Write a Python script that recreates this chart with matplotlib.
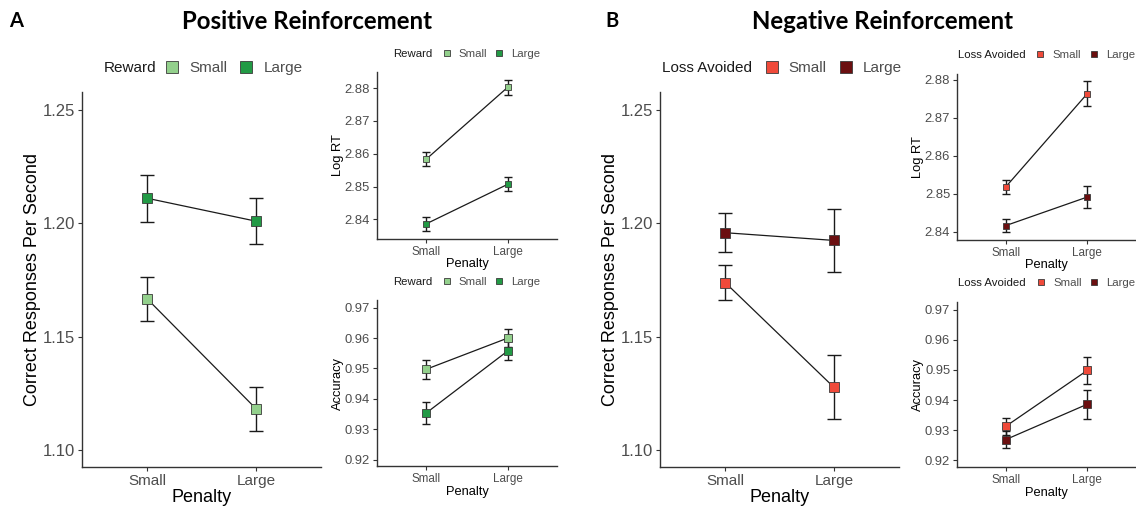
import matplotlib
matplotlib.use("Agg")
import matplotlib.pyplot as plt
from matplotlib.lines import Line2D

plt.rcParams['font.family'] = ['Liberation Sans', 'DejaVu Sans']

# ---------------- data ----------------
penalty = ['Small', 'Large']
levels = ['Small', 'Large']

# Positive reinforcement (Reward)
pos_cps_small = [1.1667, 1.1183]
pos_cps_small_se = [0.0098, 0.0097]
pos_cps_large = [1.2111, 1.2010]
pos_cps_large_se = [0.0104, 0.0102]

pos_rt_small = [2.8583, 2.8803]
pos_rt_small_se = [0.0021, 0.0023]
pos_rt_large = [2.8386, 2.8507]
pos_rt_large_se = [0.0021, 0.0022]

pos_acc_small = [0.9497, 0.9600]
pos_acc_small_se = [0.0031, 0.0029]
pos_acc_large = [0.9353, 0.9558]
pos_acc_large_se = [0.0036, 0.0031]

# Negative reinforcement (Loss Avoided)
neg_cps_small = [1.1739, 1.1277]
neg_cps_small_se = [0.0078, 0.0141]
neg_cps_large = [1.1959, 1.1925]
neg_cps_large_se = [0.0087, 0.0140]

neg_rt_small = [2.8518, 2.8763]
neg_rt_small_se = [0.0018, 0.0033]
neg_rt_large = [2.8416, 2.8491]
neg_rt_large_se = [0.0017, 0.0030]

neg_acc_small = [0.9313, 0.9498]
neg_acc_small_se = [0.0028, 0.0045]
neg_acc_large = [0.9269, 0.9386]
neg_acc_large_se = [0.0028, 0.0048]

cps_ticks = [1.10, 1.15, 1.20, 1.25]
rt_ticks = [2.84, 2.85, 2.86, 2.87, 2.88]
acc_ticks = [0.92, 0.93, 0.94, 0.95, 0.96, 0.97]

green_colors = ['#93d08c', '#229a45']
red_colors = ['#f04a3a', '#6b0f10']

W, H = 1136, 508
fig = plt.figure(figsize=(W / 100, H / 100), dpi=100)


def rect(x0, y0, x1, y1):
    return [x0 / W, 1 - y1 / H, (x1 - x0) / W, (y1 - y0) / H]


def panel(ax, series, colors, ylim, yticks, ylabel, ms, cap, ytick_fs, xtick_fs, lab_fs, ylabelpad, xlabelpad):
    x = list(range(1, len(penalty) + 1))
    for (vals, se), col in zip(series, colors):
        ax.plot(x, vals, color='#1a1a1a', lw=0.9, zorder=2)
        ax.errorbar(x, vals, yerr=se, fmt='none', ecolor='#1a1a1a', elinewidth=1.0,
                    capsize=cap, capthick=1.0, zorder=3)
        ax.plot(x, vals, ls='none', marker='s', ms=ms, mfc=col, mec='#3a3a3a', mew=0.6, zorder=4)
    ax.set_xlim(0.4, 2.6)
    ax.set_ylim(*ylim)
    ax.set_xticks(x)
    ax.set_xticklabels(penalty)
    ax.set_yticks(yticks)
    ax.set_yticklabels([f'{t:.2f}' for t in yticks])
    for s in ['top', 'right']:
        ax.spines[s].set_visible(False)
    for s in ['left', 'bottom']:
        ax.spines[s].set_color('#333333')
        ax.spines[s].set_linewidth(1.0)
    ax.tick_params(axis='both', length=2.75, width=0.8, color='#333333', pad=2.2, labelcolor='#4d4d4d')
    ax.tick_params(axis='y', labelsize=ytick_fs)
    ax.tick_params(axis='x', labelsize=xtick_fs)
    ax.set_xlabel('Penalty', fontsize=lab_fs, labelpad=xlabelpad)
    ax.set_ylabel(ylabel, fontsize=lab_fs, labelpad=ylabelpad)


def legend(title, title_x, y, key0_x, colors, fs, ms, htp, cs):
    fs_px = fs * 100 / 72
    fig.text(title_x / W, 1 - y / H, title, fontsize=fs, ha='left', va='center', color='#1a1a1a')
    handles = [Line2D([], [], ls='none', marker='s', ms=ms, mfc=c, mec='#3a3a3a', mew=0.6) for c in colors]
    x0 = key0_x - 1.0 * fs_px / 2
    fig.legend(handles, levels, loc='center left', bbox_to_anchor=(x0 / W, 1 - y / H),
               bbox_transform=fig.transFigure, ncol=2, frameon=False, fontsize=fs,
               handlelength=1.0, handletextpad=htp, columnspacing=cs, borderpad=0,
               borderaxespad=0, labelcolor='#4d4d4d')


# ---------------- panel A ----------------
axA = fig.add_axes(rect(82, 92, 321, 467))
panel(axA, [(pos_cps_small, pos_cps_small_se), (pos_cps_large, pos_cps_large_se)], green_colors,
      (1.0925, 1.258), cps_ticks, 'Correct Responses Per Second', 7.5, 5, 12, 11, 13, 1.5, 1)
axA1 = fig.add_axes(rect(377, 72, 557, 239))
panel(axA1, [(pos_rt_small, pos_rt_small_se), (pos_rt_large, pos_rt_large_se)], green_colors,
      (2.834, 2.8849), rt_ticks, 'Log RT', 4.2, 2.6, 9.4, 8.4, 9.3, 0.5, 0)
axA2 = fig.add_axes(rect(377, 300, 557, 466))
panel(axA2, [(pos_acc_small, pos_acc_small_se), (pos_acc_large, pos_acc_large_se)], green_colors,
      (0.9179, 0.9725), acc_ticks, 'Accuracy', 5.2, 2.6, 9.4, 8.4, 9.3, 0.5, 0.5)

# ---------------- panel B ----------------
axB = fig.add_axes(rect(660, 92, 899, 467))
panel(axB, [(neg_cps_small, neg_cps_small_se), (neg_cps_large, neg_cps_large_se)], red_colors,
      (1.0925, 1.258), cps_ticks, 'Correct Responses Per Second', 7.5, 5, 12, 11, 13, 1.5, 1)
axB1 = fig.add_axes(rect(957, 74, 1136, 240))
panel(axB1, [(neg_rt_small, neg_rt_small_se), (neg_rt_large, neg_rt_large_se)], red_colors,
      (2.8378, 2.8815), rt_ticks, 'Log RT', 4.2, 2.6, 9.4, 8.4, 9.3, 0.5, 0)
axB2 = fig.add_axes(rect(957, 302, 1136, 467))
panel(axB2, [(neg_acc_small, neg_acc_small_se), (neg_acc_large, neg_acc_large_se)], red_colors,
      (0.9178, 0.9725), acc_ticks, 'Accuracy', 5.2, 2.6, 9.4, 8.4, 9.3, 0.5, 0.5)

# ---------------- legends ----------------
legend('Reward', 104, 68, 172, green_colors, 11, 8.5, 0.62, 0.75)
legend('Loss Avoided', 662, 68, 771.5, red_colors, 11, 8.5, 0.62, 0.75)
legend('Reward', 393, 54, 446.5, green_colors, 8.2, 4, 0.55, 0.6)
legend('Reward', 393, 282, 446.5, green_colors, 8.2, 4.5, 0.55, 0.6)
legend('Loss Avoided', 958, 55, 1040, red_colors, 8.2, 4, 0.6, 0.6)
legend('Loss Avoided', 958, 283, 1040.5, red_colors, 8.2, 5, 0.6, 0.6)

# ---------------- titles ----------------
fig.text(306.7 / W, 1 - 29.3 / H, 'Positive Reinforcement', fontfamily='Lato', fontweight='bold',
         fontsize=17.3, ha='center', va='baseline')
fig.text(883 / W, 1 - 29.3 / H, 'Negative Reinforcement', fontfamily='Lato', fontweight='bold',
         fontsize=17.3, ha='center', va='baseline')
fig.text(9 / W, 1 - 27.3 / H, 'A', fontfamily='Lato', fontweight='bold', fontsize=14.5,
         ha='left', va='baseline')
fig.text(605 / W, 1 - 27.3 / H, 'B', fontfamily='Lato', fontweight='bold', fontsize=14.5,
         ha='left', va='baseline')

fig.savefig('out.png', dpi=100)
